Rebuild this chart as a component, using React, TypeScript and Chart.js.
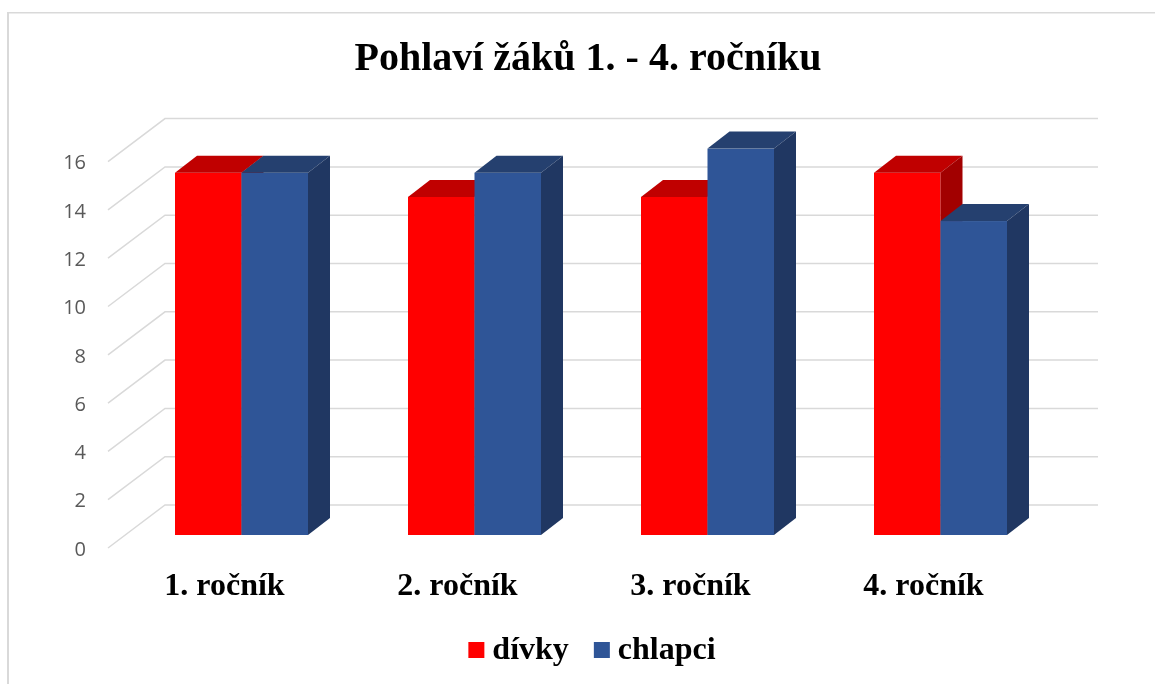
import React, { useEffect, useRef } from "react";
import { Chart, registerables } from "chart.js";

Chart.register(...registerables);

const TITLE = "Pohlaví žáků 1. - 4. ročníku";
const categories = ["1. ročník", "2. ročník", "3. ročník", "4. ročník"];
const divky = [15, 14, 14, 15];
const chlapci = [15, 15, 16, 13];
const yTicks = [0, 2, 4, 6, 8, 10, 12, 14, 16];

const RED = { front: "#FF0000", top: "#C00000", side: "#A20000" };
const BLUE = { front: "#2F5597", top: "#25406F", side: "#203762" };

const DX = 22;
const DY = -17;

const threeD = {
  id: "threeD",
  beforeDatasetsDraw(chart: any) {
    const ctx = chart.ctx;
    const area = chart.chartArea;
    const ys = chart.scales.y;
    const xs = chart.scales.x;
    ctx.save();
    // frame
    ctx.fillStyle = "#D9D9D9";
    ctx.fillRect(7, 12, 2, 700);
    ctx.fillRect(7, 12, 1200, 1.5);

    // title
    ctx.fillStyle = "#000";
    ctx.font = "bold 40px 'Liberation Serif', 'Times New Roman', serif";
    ctx.textAlign = "center";
    ctx.textBaseline = "alphabetic";
    ctx.fillText(TITLE, 588, 70);

    // gridlines
    ctx.strokeStyle = "#D9D9D9";
    ctx.lineWidth = 1.5;
    yTicks.forEach((v) => {
      const y = ys.getPixelForValue(v);
      ctx.beginPath();
      ctx.moveTo(area.left - 17, y + 13);
      ctx.lineTo(area.left + 40, y - 30);
      ctx.lineTo(area.right + 41, y - 30);
      ctx.stroke();
    });

    // y tick labels
    ctx.fillStyle = "#595959";
    ctx.font = "20px 'Open Sans', sans-serif";
    ctx.textAlign = "right";
    ctx.textBaseline = "middle";
    yTicks.forEach((v) => {
      const y = ys.getPixelForValue(v);
      ctx.fillText(String(v), 86, y + 15);
    });

    // x labels
    ctx.fillStyle = "#000";
    ctx.font = "bold 32px 'Liberation Serif', 'Times New Roman', serif";
    ctx.textAlign = "center";
    ctx.textBaseline = "alphabetic";
    categories.forEach((c, i) => {
      ctx.fillText(c, xs.getPixelForValue(i) - 17, 595);
    });

    // bars in 3D
    const bars: any[] = [];
    chart.data.datasets.forEach((ds: any, di: number) => {
      const meta = chart.getDatasetMeta(di);
      meta.data.forEach((el: any) => {
        bars.push({ el, c: di === 0 ? RED : BLUE });
      });
    });
    bars.sort((a, b) => a.el.x - b.el.x);
    bars.forEach(({ el, c }) => {
      const l = el.x - el.width / 2;
      const r = el.x + el.width / 2;
      const t = el.y;
      const b = el.base;
      // front
      ctx.fillStyle = c.front;
      ctx.fillRect(l, t, r - l, b - t);
      // top
      ctx.fillStyle = c.top;
      ctx.beginPath();
      ctx.moveTo(l, t);
      ctx.lineTo(l + DX, t + DY);
      ctx.lineTo(r + DX, t + DY);
      ctx.lineTo(r, t);
      ctx.closePath();
      ctx.fill();
      // side
      ctx.fillStyle = c.side;
      ctx.beginPath();
      ctx.moveTo(r, t);
      ctx.lineTo(r + DX, t + DY);
      ctx.lineTo(r + DX, b + DY);
      ctx.lineTo(r, b);
      ctx.closePath();
      ctx.fill();
    });

    // legend
    ctx.font = "bold 32px 'Liberation Serif', 'Times New Roman', serif";
    ctx.textAlign = "left";
    ctx.textBaseline = "alphabetic";
    const items = chart.data.datasets.map((ds: any) => ({
      label: ds.label,
      color: ds.backgroundColor,
      w: ctx.measureText(ds.label).width,
    }));
    const box = 16;
    const gapBox = 8;
    const gapItem = 25;
    let total = 0;
    items.forEach((it: any, i: number) => {
      total += box + gapBox + it.w + (i < items.length - 1 ? gapItem : 0);
    });
    let x = 592 - total / 2;
    items.forEach((it: any) => {
      ctx.fillStyle = it.color;
      ctx.fillRect(x, 642, box, box);
      ctx.fillStyle = "#000";
      ctx.fillText(it.label, x + box + gapBox, 659);
      x += box + gapBox + it.w + gapItem;
    });

    ctx.restore();
    return false;
  },
};

export default function App() {
  const ref = useRef<HTMLCanvasElement>(null);
  useEffect(() => {
    if (!ref.current) return;
    const chart = new Chart(ref.current, {
      type: "bar",
      data: {
        labels: categories,
        datasets: [
          { label: "dívky", data: divky, backgroundColor: RED.front, borderWidth: 0 },
          { label: "chlapci", data: chlapci, backgroundColor: BLUE.front, borderWidth: 0 },
        ],
      },
      options: {
        responsive: false,
        animation: false,
        devicePixelRatio: 1,
        layout: { padding: { left: 125, right: 98, top: 148.6, bottom: 149 } },
        datasets: { bar: { categoryPercentage: 133 / 233, barPercentage: 1 } },
        scales: {
          x: { display: false, offset: true },
          y: { display: false, min: 0, max: 16 },
        },
        plugins: {
          legend: { display: false },
          title: { display: false },
          tooltip: { enabled: false },
        },
      },
      plugins: [threeD],
    });
    return () => chart.destroy();
  }, []);
  return (
    <div style={{ position: "fixed", left: 0, top: 0, width: 1155, height: 684, background: "#fff" }}>
      <canvas ref={ref} width={1155} height={684} />
    </div>
  );
}
